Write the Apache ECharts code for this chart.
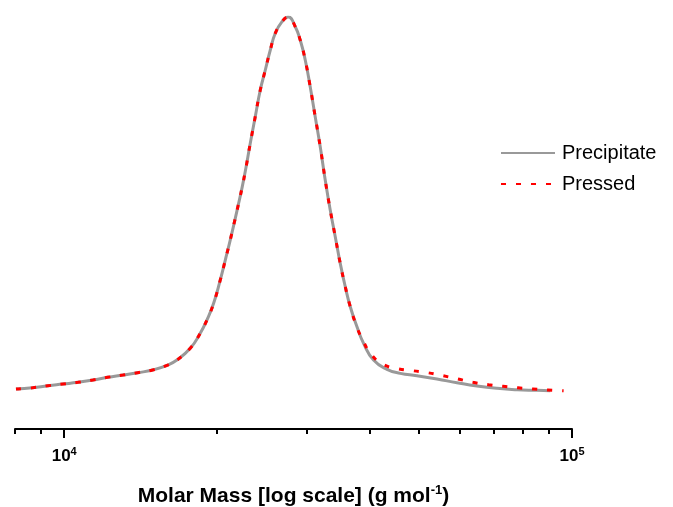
<!DOCTYPE html>
<html>
<head>
<meta charset="utf-8">
<script src="https://cdn.jsdelivr.net/npm/echarts@6/dist/echarts.min.js"></script>
<style>
html,body{margin:0;padding:0;background:#fff;}
#chart{width:673px;height:507px;}
</style>
</head>
<body>
<div id="chart"></div>
<script>
// Molar mass (g/mol) and normalized detector response
const precipitateM = [8035, 8660, 9290, 9940, 10640, 11390, 12170, 13050, 13950, 14930, 15940, 16670, 17710, 18530, 19100, 19690, 20290, 20760, 21230, 21720, 22050, 22390, 22730, 23250, 23780, 24330, 24890, 25460, 26040, 26850, 27630, 28510, 29160, 29830, 30510, 31210, 31930, 32660, 33410, 34180, 34960, 35770, 36590, 37720, 38860, 40660, 43210, 45900, 49510, 54220, 59360, 65000, 71170, 77930, 85330, 90640];
const precipitateW = [0.0067, 0.0101, 0.0155, 0.0200, 0.0246, 0.0307, 0.0379, 0.0441, 0.0502, 0.0574, 0.0700, 0.0841, 0.1154, 0.1554, 0.1909, 0.2355, 0.2977, 0.3511, 0.4045, 0.4625, 0.5020, 0.5430, 0.5880, 0.6628, 0.7338, 0.8051, 0.8585, 0.9119, 0.9565, 0.9875, 1.0000, 0.9741, 0.9386, 0.8852, 0.8139, 0.7338, 0.6537, 0.5648, 0.4847, 0.4134, 0.3423, 0.2798, 0.2264, 0.1730, 0.1287, 0.0841, 0.0593, 0.0486, 0.0422, 0.0334, 0.0235, 0.0147, 0.0085, 0.0048, 0.0032, 0.0021];

const pressedM = [8035, 8660, 9290, 9940, 10640, 11390, 12170, 13050, 13950, 14930, 15940, 16670, 17710, 18530, 19100, 19690, 20290, 20760, 21230, 21720, 22050, 22390, 22730, 23250, 23780, 24330, 24890, 25460, 26040, 26850, 27630, 28510, 29160, 29830, 30510, 31210, 31930, 32660, 33410, 34180, 34960, 35770, 36590, 37720, 38860, 40180, 42360, 45430, 48630, 52040, 55710, 59630, 63830, 68490, 73120, 78280, 83790, 89680, 96270];
const pressedW = [0.0067, 0.0101, 0.0155, 0.0200, 0.0246, 0.0307, 0.0379, 0.0441, 0.0502, 0.0574, 0.0700, 0.0841, 0.1154, 0.1554, 0.1909, 0.2355, 0.2977, 0.3511, 0.4045, 0.4625, 0.5020, 0.5430, 0.5880, 0.6628, 0.7338, 0.8051, 0.8585, 0.9119, 0.9565, 0.9875, 1.0000, 0.9741, 0.9386, 0.8852, 0.8139, 0.7338, 0.6537, 0.5648, 0.4847, 0.4134, 0.3423, 0.2798, 0.2264, 0.1714, 0.1330, 0.1001, 0.0734, 0.0609, 0.0555, 0.0502, 0.0422, 0.0334, 0.0246, 0.0182, 0.0139, 0.0101, 0.0067, 0.0040, 0.0021];

const seriesNames = ['Precipitate', 'Pressed'];
const majorTicks = [10000, 100000];
const minorTicks = [8000, 9000, 20000, 30000, 40000, 50000, 60000, 70000, 80000, 90000];
const xMin = 8000, xMax = 100000;
const xTitle = 'Molar Mass [log scale] (g mol';

const FONT = 'Liberation Sans, Arial, sans-serif';
const zip = (a, b) => a.map((v, i) => [v, b[i]]);

const chart = echarts.init(document.getElementById('chart'), null, {renderer: 'canvas'});
const baseX = {
  type: 'log', logBase: 10, min: xMin, max: xMax,
  position: 'bottom', offset: 0,
  splitLine: {show: false}, minorTick: {show: false}, minorSplitLine: {show: false},
  axisLine: {show: true, onZero: false, lineStyle: {color: '#000', width: 2}}
};
chart.setOption({
  animation: false,
  backgroundColor: '#fff',
  grid: {left: 15, right: 101, top: 17, bottom: 78, containLabel: false, outerBoundsMode: 'none'},
  legend: {
    orient: 'vertical', left: 500, top: 143, padding: 0,
    itemWidth: 54, itemHeight: 14, itemGap: 11,
    itemStyle: {opacity: 0},
    textStyle: {fontFamily: FONT, fontSize: 20, color: '#000', padding: [0, 0, 0, 2]},
    data: seriesNames
  },
  xAxis: [
    Object.assign({}, baseX, {
      axisTick: {show: true, length: 5, lineStyle: {color: '#000', width: 2}, customValues: minorTicks},
      axisLabel: {show: false},
      name: '{t|' + xTitle + '}{s|-1}{t|)}',
      nameLocation: 'middle', nameGap: 55,
      nameTextStyle: {
        rich: {
          t: {fontFamily: FONT, fontSize: 21, fontWeight: 'bold', color: '#000', lineHeight: 24},
          s: {fontFamily: FONT, fontSize: 13, fontWeight: 'bold', color: '#000', lineHeight: 13, verticalAlign: 'top'}
        }
      }
    }),
    Object.assign({}, baseX, {
      axisLine: {show: false, onZero: false},
      axisTick: {show: true, length: 9, lineStyle: {color: '#000', width: 2}, customValues: majorTicks},
      axisLabel: {
        show: true, margin: 17, customValues: majorTicks,
        formatter: v => '{b|10}{s|' + Math.round(Math.log10(v)) + '}',
        rich: {
          b: {fontFamily: FONT, fontSize: 17, fontWeight: 'bold', color: '#000', lineHeight: 20},
          s: {fontFamily: FONT, fontSize: 11, fontWeight: 'bold', color: '#000', lineHeight: 11, verticalAlign: 'top'}
        }
      }
    })
  ],
  yAxis: {type: 'value', min: -0.1, max: 1.0, show: false},
  series: [
    {
      name: seriesNames[0], type: 'line', xAxisIndex: 0, data: zip(precipitateM, precipitateW),
      symbol: 'none', smooth: 0.5,
      lineStyle: {color: '#999999', width: 3}, itemStyle: {color: '#999999'}, z: 2
    },
    {
      name: seriesNames[1], type: 'line', xAxisIndex: 0, data: zip(pressedM, pressedW),
      symbol: 'none', smooth: 0.5,
      lineStyle: {color: '#ff0000', width: 3, type: [5, 10]}, itemStyle: {color: '#ff0000'}, z: 3
    }
  ]
});
</script>
</body>
</html>
